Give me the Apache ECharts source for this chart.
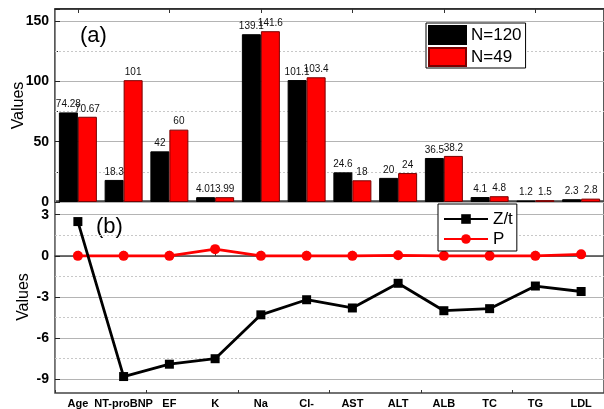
<!DOCTYPE html>
<html>
<head>
<meta charset="utf-8">
<script src="https://cdn.jsdelivr.net/npm/echarts@6/dist/echarts.min.js"></script>
<style>
  html, body { margin: 0; padding: 0; background: #fff; }
  #chart { width: 604px; height: 409px; }
</style>
</head>
<body>
<div id="chart"></div>
<script>
// Clinical indicators compared between the two groups
const categories = ['Age', 'NT-proBNP', 'EF', 'K', 'Na', 'Cl-', 'AST', 'ALT', 'ALB', 'TC', 'TG', 'LDL'];
const groupN120 = [74.28, 18.3, 42, 4.01, 139.1, 101.1, 24.6, 20, 36.5, 4.1, 1.2, 2.3];
const groupN49 = [70.67, 101, 60, 3.99, 141.6, 103.4, 18, 24, 38.2, 4.8, 1.5, 2.8];
// Test statistics and p-values
const ztValues = [2.5, -8.8, -7.9, -7.5, -4.3, -3.2, -3.8, -2.0, -4.0, -3.85, -2.2, -2.6];
const pValues = [0, 0, 0, 0.49, 0, 0, 0, 0.04, 0, 0, 0, 0.11];
// Axis ticks
const topTicks = [0, 50, 100, 150];
const topMinorTicks = [25, 75, 125];
const bottomTicks = [-9, -6, -3, 0, 3];
const bottomMinorTicks = [-7.5, -4.5, -1.5, 1.5];

const FONT = '"Liberation Sans", Arial, sans-serif';
const chart = echarts.init(document.getElementById('chart'), null, { renderer: 'canvas' });

const minorLines = (vals) => ({
  silent: true,
  symbol: 'none',
  z: 1,
  label: { show: false },
  lineStyle: { color: '#c8c8c8', type: [2, 2], width: 1 },
  emphasis: { disabled: true },
  data: vals.map(v => ({ yAxis: v }))
});

const option = {
  animation: false,
  backgroundColor: '#fff',
  textStyle: { fontFamily: FONT },
  grid: [
    { left: 55, top: 9, width: 552, height: 193, show: true, borderColor: '#222', borderWidth: 1.5, backgroundColor: 'transparent' },
    { left: 55, top: 201, width: 552, height: 193, show: true, borderColor: '#444', borderWidth: 1.5, backgroundColor: 'transparent' }
  ],
  xAxis: [
    { type: 'category', gridIndex: 0, data: categories, position: 'bottom',
      axisLine: { show: false }, axisTick: { show: false }, axisLabel: { show: false } },
    { type: 'category', gridIndex: 1, data: categories, position: 'bottom',
      axisLine: { show: true, lineStyle: { color: '#444', width: 1.5 } },
      axisTick: { show: true, inside: true, alignWithLabel: true, length: 5, lineStyle: { color: '#333' } },
      axisLabel: { show: true, color: '#000', fontWeight: 'bold', fontSize: 11, margin: 5, interval: 0, fontFamily: FONT } },
    { type: 'category', gridIndex: 0, data: categories, position: 'top',
      axisLine: { show: true, lineStyle: { color: '#222', width: 1.5 } },
      axisTick: { show: true, inside: true, alignWithLabel: true, length: 4, lineStyle: { color: '#333' } },
      axisLabel: { show: false } },
    { type: 'category', gridIndex: 1, data: categories, position: 'bottom',
      axisLine: { show: false },
      axisTick: { show: true, inside: true, length: 3, lineStyle: { color: '#333' } },
      axisLabel: { show: false } }
  ],
  yAxis: [
    { type: 'value', gridIndex: 0, min: 0, max: 160, interval: 50,
      name: 'Values', nameLocation: 'middle', nameGap: 28, nameMoveOverlap: false,
      nameTextStyle: { fontSize: 16, color: '#000', fontFamily: FONT },
      axisLine: { show: true, lineStyle: { color: '#888', width: 1 } },
      axisTick: { show: true, inside: true, length: 5, lineStyle: { color: '#222' } },
      minorTick: { show: true, splitNumber: 2, length: 3, lineStyle: { color: '#222' } },
      axisLabel: { color: '#000', fontWeight: 'bold', fontSize: 14, margin: 6, fontFamily: FONT,
        formatter: v => (topTicks.includes(v) ? String(v) : '') },
      splitLine: { show: true, lineStyle: { color: '#b4b4b4', width: 1.2 } } },
    { type: 'value', gridIndex: 1, min: -10, max: 4,
      name: 'Values', nameLocation: 'middle', nameGap: 23, nameMoveOverlap: false,
      nameTextStyle: { fontSize: 16, color: '#000', fontFamily: FONT },
      axisLine: { show: true, lineStyle: { color: '#888', width: 1 } },
      axisTick: { show: true, inside: true, length: 5, customValues: bottomTicks, lineStyle: { color: '#222' } },
      axisLabel: { color: '#000', fontWeight: 'bold', fontSize: 14, margin: 6, fontFamily: FONT,
        customValues: bottomTicks },
      splitLine: { show: true, lineStyle: { color: '#b4b4b4', width: 1.2 } } }
  ],
  legend: [
    { data: ['N=120', 'N=49'], orient: 'vertical', left: 426, top: 23,
      icon: 'rect', itemWidth: 37, itemHeight: 18, itemGap: 2,
      padding: [2, 4, 1, 2], borderColor: '#000', borderWidth: 1, backgroundColor: '#fff',
      textStyle: { fontSize: 17, lineHeight: 18, color: '#000', fontFamily: FONT } },
    { data: ['Z/t', 'P'], orient: 'vertical', left: 438, top: 204,
      itemWidth: 44, itemHeight: 12, itemGap: 0,
      padding: [5, 4, 2, 5], borderColor: '#000', borderWidth: 1, backgroundColor: '#fff',
      textStyle: { fontSize: 17, lineHeight: 20, color: '#000', fontFamily: FONT } }
  ],
  graphic: [
    { type: 'text', left: 80, top: 25, style: { text: '(a)', font: '22px "Liberation Sans", Arial, sans-serif', fill: '#000' } },
    { type: 'text', left: 96, top: 216, style: { text: '(b)', font: '22px "Liberation Sans", Arial, sans-serif', fill: '#000' } }
  ],
  series: [
    { name: 'N=120', type: 'bar', xAxisIndex: 0, yAxisIndex: 0, data: groupN120,
      barWidth: 19, barGap: '0%',
      itemStyle: { color: '#000', borderColor: '#000', borderWidth: 1 },
      label: { show: true, position: 'top', distance: 3, fontSize: 10, color: '#111', fontFamily: FONT },
      markLine: minorLines(topMinorTicks) },
    { name: 'N=49', type: 'bar', xAxisIndex: 0, yAxisIndex: 0, data: groupN49,
      barWidth: 19, barGap: '0%',
      itemStyle: { color: '#ff0000', borderColor: '#7a0000', borderWidth: 1 },
      label: { show: true, position: 'top', distance: 3, fontSize: 10, color: '#111', fontFamily: FONT } },
    { name: 'Z/t', type: 'line', xAxisIndex: 1, yAxisIndex: 1, data: ztValues,
      symbol: 'rect', symbolSize: 9, z: 4,
      lineStyle: { color: '#000', width: 2.8 }, itemStyle: { color: '#000' },
      markLine: minorLines(bottomMinorTicks) },
    { name: 'P', type: 'line', xAxisIndex: 1, yAxisIndex: 1, data: pValues,
      symbol: 'circle', symbolSize: 10, z: 3,
      lineStyle: { color: '#ff0000', width: 2.8 }, itemStyle: { color: '#ff0000' } }
  ]
};

chart.setOption(option);
</script>
</body>
</html>
